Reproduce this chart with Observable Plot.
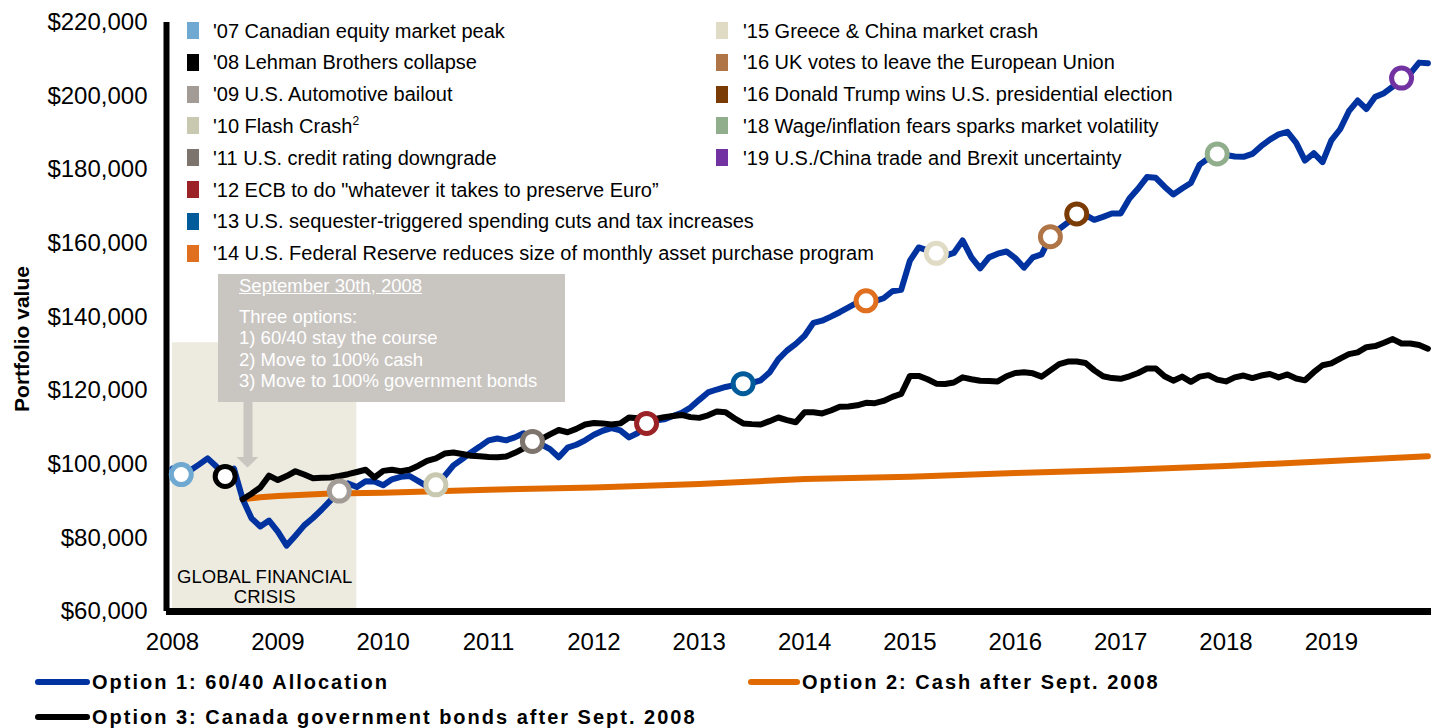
<!DOCTYPE html>
<html>
<head>
<meta charset="utf-8">
<script src="https://cdn.jsdelivr.net/npm/d3@7"></script>
<script src="https://cdn.jsdelivr.net/npm/@observablehq/plot@0.6"></script>
<style>
  html, body { margin: 0; padding: 0; background: #fff; }
  body { font-family: "Liberation Sans", Arial, sans-serif; color: #000; }
  #wrap { position: relative; width: 1434px; height: 728px; overflow: hidden; background: #fff; }
  #wrap > svg { position: absolute; left: 0; top: 0; overflow: visible; }
  .abs { position: absolute; white-space: nowrap; }
  .lg-sq { position: absolute; width: 11.5px; height: 17px; }
  .lg-tx { position: absolute; font-size: 20px; line-height: 22px; height: 22px; }
  .lg-tx sup { font-size: 12px; line-height: 0; vertical-align: 8px; }
  .note { position: absolute; background: #c9c5c1; color: #fff; font-size: 18.5px; line-height: 21.3px; }
  .bl-sw { position: absolute; height: 6px; border-radius: 3px; }
  .bl-tx { position: absolute; font-size: 20px; font-weight: bold; letter-spacing: 2px; line-height: 24px; height: 24px; }
</style>
</head>
<body>
<div id="wrap"></div>
<script>
// ---------------- DATA ----------------
// x-axis: months since Jan 2008 (0 = Jan 2008 ... 143 = Dec 2019)
const years = ["2008","2009","2010","2011","2012","2013","2014","2015","2016","2017","2018","2019"];
const yTicks = [60000, 80000, 100000, 120000, 140000, 160000, 180000, 200000, 220000];

// Option 1: 60/40 Allocation, monthly from month 0
const option1 = [
  98800, 97200, 98300, 99900, 101600, 99400, 96700, 98800, 90500, 85300, 83100, 84700,
  81700, 77900, 80600, 83400, 85400, 87700, 90200, 92700, 94800, 93800, 95400, 95300,
  94300, 95900, 96600, 96800, 95400, 94000, 94400, 96800, 99700, 101400, 103200, 104800,
  106500, 107000, 106500, 107300, 108400, 106200, 105400, 104100, 101900, 104500, 105300, 106500,
  108000, 109100, 109800, 109200, 107300, 108500, 111100, 111900, 112200, 113100, 114000, 115400,
  117500, 119500, 120300, 121000, 121500, 121900, 122100, 122800, 124900, 128500, 130900, 132700,
  134900, 138400, 139000, 140100, 141300, 142600, 143900, 144400, 144300, 145100, 147000, 147400,
  155300, 158900, 158100, 157300, 156600, 157400, 160800, 156200, 153200, 156200, 157200, 157800,
  156000, 153400, 156200, 157000, 161800, 163900, 165700, 168000, 167700, 166400, 167200, 168100,
  168100, 172200, 174900, 178000, 177800, 175400, 173300, 174900, 176400, 181400, 183100, 184300,
  184000, 183600, 183500, 184300, 186400, 188200, 189600, 190300, 187300, 182500, 184500, 182100,
  188000, 191000, 195900, 198800, 196500, 199800, 200800, 202600, 204900, 206200, 209100, 208900
];

// Option 3: Canada government bonds after Sept. 2008, monthly from month 8
const option3Start = 8;
const option3 = [
  90500, 92000, 93700, 96900,
  95700, 96800, 98100, 97200, 96200, 96300, 96400, 96800, 97300, 97900, 98500, 96400,
  98200, 98500, 98100, 98500, 99600, 100900, 101600, 102900, 103200, 102800, 102300, 102200,
  102000, 101900, 102100, 103100, 104300, 105500, 106800, 108100, 109300, 108700, 109600, 110800,
  111200, 111100, 110800, 111100, 112700, 112500, 112000, 112300, 112800, 113100, 113400, 112800,
  112600, 113300, 114300, 114100, 112500, 111100, 110900, 110800, 111700, 112700, 112000, 111400,
  114100, 114100, 113800, 114600, 115600, 115700, 116000, 116700, 116600, 117200, 118300, 119100,
  124000, 124000, 123100, 121900, 121800, 122200, 123600, 123100, 122700, 122600, 122500, 123900,
  124800, 125000, 124700, 123800, 125500, 127200, 127900, 127900, 127500, 125500, 123900, 123400,
  123200, 123900, 124800, 126000, 126000, 123900, 122700, 123800, 122400, 123800, 124200, 123000,
  122500, 123600, 124100, 123400, 124100, 124500, 123600, 124400, 123300, 122800, 125000, 126900,
  127400, 128700, 129900, 130400, 131800, 132100, 133000, 134000, 132800, 132800, 132400, 131400
];

// Option 2: Cash after Sept. 2008 (smooth line, read at these months)
const option2Months = [8, 10, 12, 18, 24, 36, 48, 60, 72, 84, 96, 108, 120, 132, 143];
const option2 = [90500, 91050, 91400, 92050, 92250, 93100, 93700, 94650, 96000, 96600, 97600, 98450, 99500, 100900, 102200];

// Market events (placed on Option 1)
const eventLabels = [
  "'07 Canadian equity market peak",
  "'08 Lehman Brothers collapse",
  "'09 U.S. Automotive bailout",
  "'10 Flash Crash",
  "'11 U.S. credit rating downgrade",
  "'12 ECB to do \"whatever it takes to preserve Euro\u201D",
  "'13 U.S. sequester-triggered spending cuts and tax increases",
  "'14 U.S. Federal Reserve reduces size of monthly asset purchase program",
  "'15 Greece & China market crash",
  "'16 UK votes to leave the European Union",
  "'16 Donald Trump wins U.S. presidential election",
  "'18 Wage/inflation fears sparks market volatility",
  "'19 U.S./China trade and Brexit uncertainty"
];
const eventNotes = ["", "", "", "2", "", "", "", "", "", "", "", "", ""];
const eventMonths = [1, 6, 19, 30, 41, 54, 65, 79, 87, 100, 103, 119, 140];
const eventColors = ["#6fa8d0", "#000000", "#a39b95", "#c9c8b0", "#7d746e", "#9b2226", "#005b9a",
                     "#e0701f", "#dfdbc5", "#b07547", "#7a3b05", "#90ae8b", "#7232a2"];

// Global financial crisis shading
const gfcStart = 0, gfcEnd = 21, gfcTop = 133000;
const gfcLabel = "GLOBAL FINANCIAL\nCRISIS";

// Annotation
const noteTitle = "September 30th, 2008";
const noteLines = ["Three options:", "1) 60/40 stay the course", "2) Move to 100% cash", "3) Move to 100% government bonds"];

// Series legend
const seriesNames = ["Option 1: 60/40 Allocation", "Option 2: Cash after Sept. 2008", "Option 3: Canada government bonds after Sept. 2008"];
const seriesColors = ["#0033a0", "#e06a00", "#000000"];

// ---------------- LAYOUT ----------------
const W = 1434, H = 655;
const frameLeft = 166, frameRight = 1431, frameTop = 22, frameBottom = 611;
const firstMonthX = 172, pxPerMonth = 8.779;
const xDomain = [(frameLeft - firstMonthX) / pxPerMonth, (frameRight - firstMonthX) / pxPerMonth];

const d1 = option1.map((v, i) => ({m: i, v}));
const d2 = option2.map((v, i) => ({m: option2Months[i], v}));
const d3data = option3.map((v, i) => ({m: option3Start + i, v}));
const ev = eventMonths.map((m, i) => ({m, v: option1[m], color: eventColors[i]}));
const fmt = d3.format(",");

const chart = Plot.plot({
  width: W, height: H,
  marginLeft: frameLeft, marginRight: W - frameRight,
  marginTop: frameTop, marginBottom: H - frameBottom,
  x: {domain: xDomain},
  y: {domain: [60000, 220000]},
  color: {type: "identity"},
  style: {fontFamily: "'Liberation Sans', Arial, sans-serif", fontSize: "24px", color: "#000", background: "transparent", overflow: "visible"},
  marks: [
    Plot.rect([{x1: gfcStart, x2: gfcEnd, y1: 60000, y2: gfcTop}], {x1: "x1", x2: "x2", y1: "y1", y2: "y2", fill: "#edebe0"}),
    Plot.text([gfcLabel], {x: (gfcStart + gfcEnd) / 2, y: 60000, dy: -25, text: d => d, lineAnchor: "middle", fontSize: 18.5, lineHeight: 1.1, fill: "#000"}),
    Plot.ruleX([xDomain[0]], {y1: 60000, y2: 220000, stroke: "#000", strokeWidth: 6}),
    Plot.ruleY([60000], {stroke: "#000", strokeWidth: 7}),
    Plot.axisY({ticks: yTicks, tickFormat: d => "$" + fmt(d), tickSize: 0, tickPadding: 19, label: null, fontSize: 24}),
    Plot.axisX({ticks: years.map((y, i) => i * 12), tickFormat: m => years[Math.round(m / 12)], tickSize: 0, tickPadding: 21, label: null, fontSize: 24}),
    Plot.text(["Portfolio value"], {frameAnchor: "left", dx: -144, dy: 22, rotate: -90, textAnchor: "middle", fontWeight: "bold", fontSize: 21, fill: "#000"}),
    Plot.line(d2, {x: "m", y: "v", stroke: seriesColors[1], strokeWidth: 6, strokeLinejoin: "round", strokeLinecap: "round"}),
    Plot.line(d1, {x: "m", y: "v", stroke: seriesColors[0], strokeWidth: 6, strokeLinejoin: "round", strokeLinecap: "round"}),
    Plot.line(d3data, {x: "m", y: "v", stroke: seriesColors[2], strokeWidth: 6, strokeLinejoin: "round", strokeLinecap: "round"}),
    Plot.dot(ev, {x: "m", y: "v", r: 10, fill: "white", stroke: "color", strokeWidth: 5})
  ]
});

const wrap = document.getElementById("wrap");
wrap.appendChild(chart);

// ---------------- TOP LEGEND (events) ----------------
eventLabels.forEach((lab, k) => {
  const col = k < 8 ? 0 : 1;
  const row = k < 8 ? k : k - 8;
  const cy = 30.5 + row * 31.8;
  const sq = document.createElement("div");
  sq.className = "lg-sq";
  sq.style.left = (col ? 716 : 187) + "px";
  sq.style.top = (cy - 8.5) + "px";
  sq.style.background = eventColors[k];
  wrap.appendChild(sq);
  const tx = document.createElement("div");
  tx.className = "lg-tx abs";
  tx.style.left = (col ? 743 : 213) + "px";
  tx.style.top = (cy - 11) + "px";
  tx.textContent = lab;
  if (eventNotes[k]) {
    const s = document.createElement("sup");
    s.textContent = eventNotes[k];
    tx.appendChild(s);
  }
  wrap.appendChild(tx);
});

// ---------------- ANNOTATION ----------------
const note = document.createElement("div");
note.className = "note";
note.style.left = "218px"; note.style.top = "274px";
note.style.width = "347px"; note.style.height = "128px";
wrap.appendChild(note);
const t0 = document.createElement("div");
t0.className = "abs";
t0.style.left = "21px"; t0.style.top = "0.6px";
t0.style.textDecoration = "underline";
t0.textContent = noteTitle;
note.appendChild(t0);
noteLines.forEach((ln, i) => {
  const t = document.createElement("div");
  t.className = "abs";
  t.style.left = "21px";
  t.style.top = (31.9 + i * 21.3) + "px";
  t.textContent = ln;
  note.appendChild(t);
});
const arrowSvg = d3.create("svg").attr("width", 30).attr("height", 70)
  .style("position", "absolute").style("left", "233px").style("top", "401px");
arrowSvg.append("polygon")
  .attr("points", "10.5,0 19.5,0 19.5,56 25.5,56 14.5,66.5 3.5,56 10.5,56")
  .attr("fill", "#c9c5c1");
wrap.appendChild(arrowSvg.node());

// ---------------- BOTTOM LEGEND (series) ----------------
const bl = [
  {sx: 35, sw: 55, tx: 92, cy: 682},
  {sx: 748, sw: 52, tx: 802, cy: 682},
  {sx: 35, sw: 55, tx: 92, cy: 717}
];
seriesNames.forEach((name, i) => {
  const p = bl[i];
  const sw = document.createElement("div");
  sw.className = "bl-sw";
  sw.style.left = p.sx + "px"; sw.style.width = p.sw + "px";
  sw.style.top = (p.cy - 3) + "px";
  sw.style.background = seriesColors[i];
  wrap.appendChild(sw);
  const t = document.createElement("div");
  t.className = "bl-tx abs";
  t.style.left = p.tx + "px";
  t.style.top = (p.cy - 12) + "px";
  t.textContent = name;
  wrap.appendChild(t);
});
</script>
</body>
</html>
